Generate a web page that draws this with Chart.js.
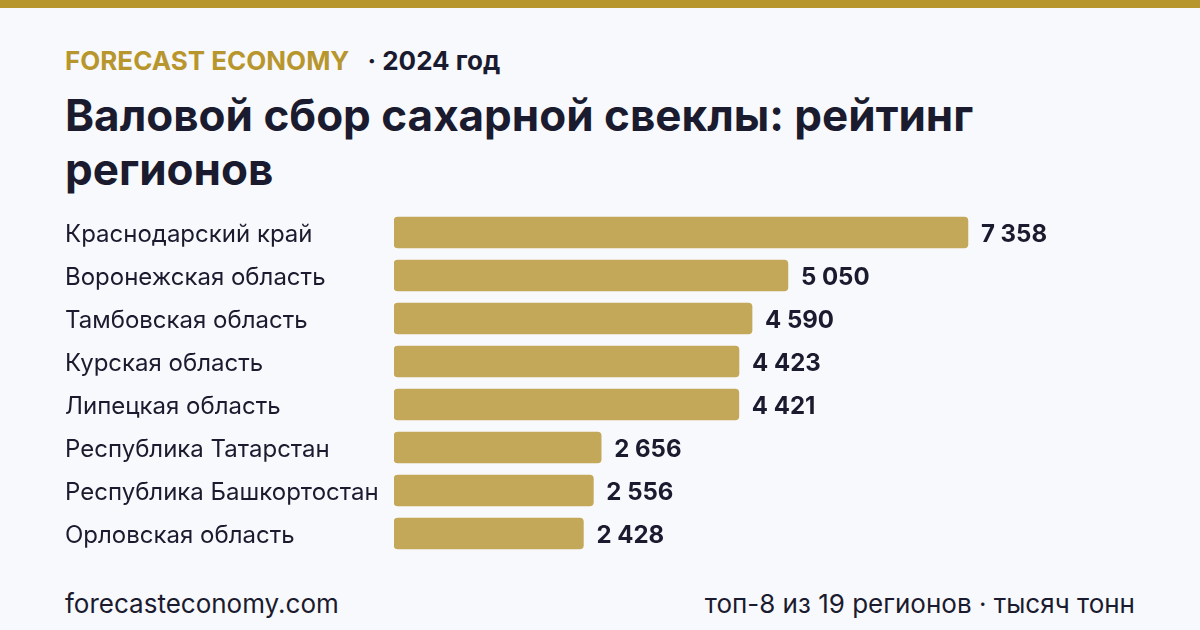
<!DOCTYPE html>
<html>
<head>
<meta charset="utf-8">
<script src="https://cdn.jsdelivr.net/npm/chart.js@4"></script>
<style>
  html, body { margin: 0; padding: 0; }
  body { width: 1200px; height: 630px; background: #f8f9fc; position: relative; overflow: hidden; font-family: Inter, "Noto Sans", sans-serif; color: #1b1b2f; }
  .topbar { position: absolute; left: 0; top: 0; width: 1200px; height: 8px; background: #b8962e; }
  .brand { position: absolute; left: 65px; top: 45px; font-size: 26px; line-height: normal; font-weight: 700; white-space: nowrap; }
  .brand .name { color: #b8962e; }
  .brand .year { color: #1b1b2f; margin-left: 18px; }
  h1 { position: absolute; left: 65px; top: 88px; margin: 0; width: 1040px; font-size: 44px; line-height: 54px; font-weight: 700; }
  .chart { position: absolute; left: 65px; top: 211px; width: 1070px; height: 344px; }
  .foot { position: absolute; top: 588px; font-size: 26px; line-height: normal; }
  .foot.l { left: 65px; }
  .foot.r { right: 65px; }
</style>
</head>
<body>
<div class="topbar"></div>
<div class="brand"><span class="name">FORECAST ECONOMY</span><span class="year">· 2024 год</span></div>
<h1>Валовой сбор сахарной свеклы: рейтинг регионов</h1>
<div class="chart"><canvas id="chart-bars"></canvas></div>
<div class="foot l">forecasteconomy.com</div>
<div class="foot r">топ-8 из 19 регионов · тысяч тонн</div>
<script>
var regions = ['Краснодарский край', 'Воронежская область', 'Тамбовская область', 'Курская область',
  'Липецкая область', 'Республика Татарстан', 'Республика Башкортостан', 'Орловская область'];
var harvest = [7358, 5050, 4590, 4423, 4421, 2656, 2556, 2428];

function fmt(v) {
  return String(v).replace(/\B(?=(\d{3})+(?!\d))/g, ' ');
}

// подписи значений справа от столбцов
var valueLabels = {
  id: 'valueLabels',
  afterDatasetsDraw: function(chart) {
    var ctx = chart.ctx;
    var meta = chart.getDatasetMeta(0);
    ctx.save();
    ctx.font = '700 24px Inter';
    ctx.fillStyle = '#1b1b2f';
    ctx.textBaseline = 'middle';
    meta.data.forEach(function(bar, i) {
      ctx.fillText(fmt(harvest[i]), bar.x + 13, bar.y + 2);
    });
    ctx.restore();
  }
};

new Chart('chart-bars', {
  type: 'bar',
  data: {
    labels: regions,
    datasets: [{
      data: harvest,
      backgroundColor: '#c4a85a',
      borderRadius: 4,
      borderSkipped: false,
      barThickness: 31
    }]
  },
  options: {
    indexAxis: 'y',
    responsive: true,
    maintainAspectRatio: false,
    animation: false,
    layout: { padding: 0 },
    plugins: {
      legend: { display: false },
      tooltip: { enabled: false }
    },
    scales: {
      x: { display: false, min: 0, max: 9500 },
      y: {
        grid: { display: false },
        border: { display: false },
        ticks: {
          crossAlign: 'far',
          padding: 0,
          labelOffset: 2,
          color: '#1b1b2f',
          font: { family: 'Inter', size: 24 }
        },
        afterFit: function(scale) {
          scale.width = 329;
          scale.paddingTop = 0;
          scale.paddingBottom = 0;
        }
      }
    }
  },
  plugins: [valueLabels]
});
</script>
</body>
</html>
